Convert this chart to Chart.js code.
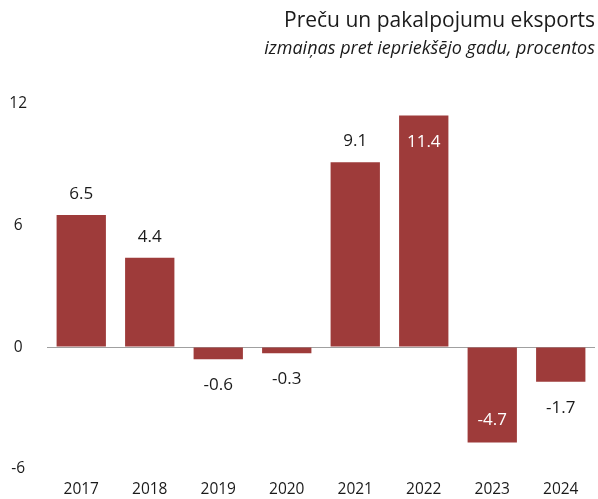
<!DOCTYPE html>
<html>
<head>
<meta charset="utf-8">
<script src="https://cdn.jsdelivr.net/npm/chart.js@4.4.1/dist/chart.umd.min.js"></script>
<style>
html,body{margin:0;padding:0;background:#fff;}
#wrap{width:598px;height:499px;position:relative;}
</style>
</head>
<body>
<div id="wrap"><canvas id="c" width="598" height="499"></canvas></div>
<script>
const categories = ["2017","2018","2019","2020","2021","2022","2023","2024"];
const exportGrowth = [6.5, 4.4, -0.6, -0.3, 9.1, 11.4, -4.7, -1.7];
const yTicks = [-6, 0, 6, 12];
const titleText = "Preču un pakalpojumu eksports";
const subtitleText = "izmaiņas pret iepriekšējo gadu, procentos";

const FONT = "'Open Sans', Lato, sans-serif";
const BAR = "#9e3b3a";
const TXT = "#1a1a1a";

const valueLabels = {
  id: 'valueLabels',
  afterDatasetsDraw(chart) {
    const ctx = chart.ctx;
    const meta = chart.getDatasetMeta(0);
    const area = chart.chartArea;
    ctx.save();
    ctx.font = "17px " + FONT;
    ctx.textAlign = 'center';
    ctx.textBaseline = 'alphabetic';
    meta.data.forEach((bar, i) => {
      const v = exportGrowth[i];
      const txt = v.toFixed(1);
      let y, color = TXT;
      if (v >= 0) {
        y = bar.y - 16;
        if (y - 14 < area.top) { y = bar.y + 32; color = '#fff'; }
      } else {
        y = bar.y + 31;
        if (y + 4 > area.bottom) { y = bar.y - 18; color = '#fff'; }
      }
      ctx.fillStyle = color;
      ctx.fillText(txt, bar.x, y);
    });
    ctx.restore();
  }
};

new Chart(document.getElementById('c'), {
  type: 'bar',
  data: {
    labels: categories,
    datasets: [{
      data: exportGrowth,
      backgroundColor: BAR,
      borderWidth: 0,
      barPercentage: 0.72,
      categoryPercentage: 1.0
    }]
  },
  options: {
    responsive: false,
    animation: false,
    layout: { padding: { left: 0, right: 3, top: 0, bottom: 0 } },
    plugins: {
      legend: { display: false },
      tooltip: { enabled: false },
      title: {
        display: true, text: titleText, align: 'end', color: TXT,
        font: { family: FONT, size: 21, weight: 'normal', lineHeight: 1.2 },
        padding: { top: 8, bottom: 0 }
      },
      subtitle: {
        display: true, text: subtitleText, align: 'end', color: TXT,
        font: { family: FONT, size: 18, style: 'italic', weight: 'normal', lineHeight: 1.2 },
        padding: { top: 4.5, bottom: 44 }
      }
    },
    scales: {
      x: {
        grid: { display: false, drawTicks: false },
        border: { display: false },
        ticks: { color: TXT, font: { family: FONT, size: 15.5, lineHeight: 1 }, padding: 13, maxRotation: 0 },
        afterFit(s) { s.height = 30; }
      },
      y: {
        min: -6, max: 12,
        afterBuildTicks(s) { s.ticks = yTicks.map(v => ({ value: v })); },
        grid: {
          drawTicks: false,
          color: c => (c.tick && c.tick.value === 0) ? '#a0a0a0' : 'rgba(0,0,0,0)',
          lineWidth: 1
        },
        border: { display: false },
        ticks: { color: TXT, font: { family: FONT, size: 15.5 }, padding: 20, crossAlign: 'center' },
        afterFit(s) { s.width = 47; }
      }
    }
  },
  plugins: [valueLabels]
});
</script>
</body>
</html>
